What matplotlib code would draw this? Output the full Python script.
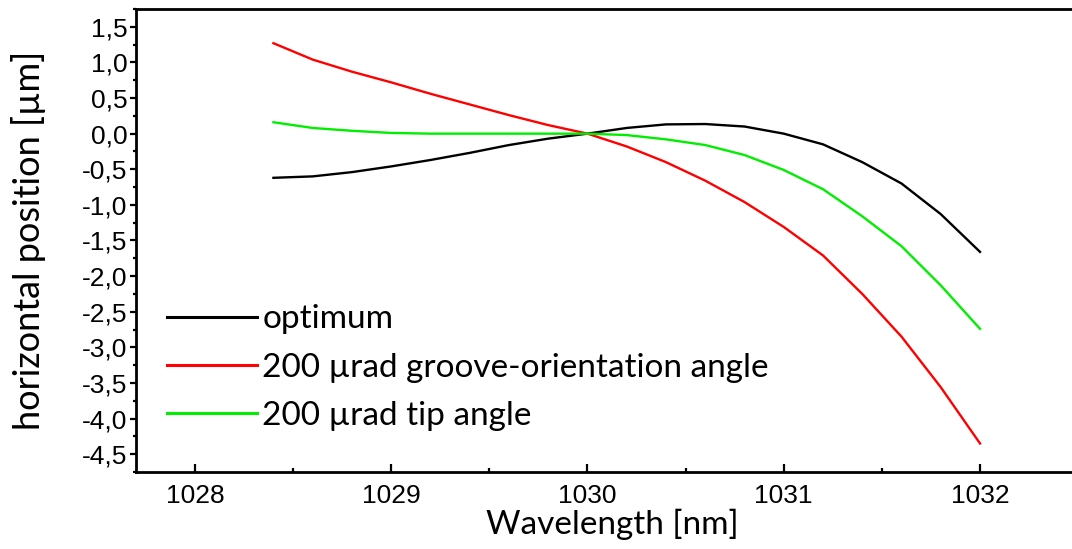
import matplotlib
matplotlib.use('Agg')
import matplotlib.pyplot as plt
import numpy as np
from matplotlib.ticker import FuncFormatter, MultipleLocator

# wavelength grid [nm]
wavelength = [1028.4, 1028.6, 1028.8, 1029.0, 1029.2, 1029.4, 1029.6, 1029.8, 1030.0,
              1030.2, 1030.4, 1030.6, 1030.8, 1031.0, 1031.2, 1031.4, 1031.6, 1031.8, 1032.0]

# horizontal position [um]
optimum = [-0.62, -0.60, -0.54, -0.46, -0.37, -0.27, -0.16, -0.07, 0.0,
           0.08, 0.13, 0.135, 0.10, 0.0, -0.15, -0.40, -0.70, -1.13, -1.66]
groove = [1.27, 1.04, 0.87, 0.72, 0.56, 0.41, 0.26, 0.12, 0.0,
          -0.18, -0.40, -0.66, -0.96, -1.31, -1.71, -2.25, -2.85, -3.56, -4.35]
tip = [0.16, 0.08, 0.04, 0.01, 0.0, 0.0, 0.0, 0.0, 0.0,
       -0.02, -0.08, -0.16, -0.30, -0.51, -0.78, -1.16, -1.58, -2.13, -2.74]

labels = ['optimum', '200 µrad groove-orientation angle', '200 µrad tip angle']
colors = ['#000000', '#ff0000', '#00ee00']

fig = plt.figure(figsize=(10.72, 5.49), dpi=100)
ax = fig.add_axes([0.1269, 0.1403, 0.888, 0.8433])

for ys, lab, c in zip([optimum, groove, tip], labels, colors):
    ax.plot(wavelength, ys, color=c, lw=1.7, label=lab)

ax.set_xlim(1027.70, 1032.55)
ax.set_ylim(-4.75, 1.75)

ax.xaxis.set_major_locator(MultipleLocator(1))
ax.xaxis.set_minor_locator(MultipleLocator(0.5))
ax.yaxis.set_major_locator(MultipleLocator(0.5))
ax.yaxis.set_minor_locator(MultipleLocator(0.25))
ax.yaxis.set_major_formatter(FuncFormatter(lambda v, p: f'{v:.1f}'.replace('.', ',').replace('-0,0', '0,0')))

ax.tick_params(axis='x', which='major', direction='in', length=5.5, width=1.6, labelsize=19, pad=9)
ax.tick_params(axis='x', which='minor', direction='in', length=3, width=1.6)
ax.tick_params(axis='y', which='major', direction='out', length=4, width=1.6, labelsize=19, pad=2)
ax.tick_params(axis='y', which='minor', direction='out', length=2.5, width=1.6)
for lab in ax.get_xticklabels() + ax.get_yticklabels():
    lab.set_family('Liberation Sans')

for s in ['left', 'bottom', 'top']:
    ax.spines[s].set_linewidth(2)
ax.spines['right'].set_visible(False)

ax.set_xlabel('Wavelength [nm]', fontsize=24, family='Lato', labelpad=0)
ax.set_ylabel('horizontal position [µm]', fontsize=26, family='Lato', labelpad=26)

leg = ax.legend(loc='lower left', bbox_to_anchor=(0.0084, 0.038), frameon=False,
                prop={'family': 'Lato', 'size': 24}, handlelength=2.7,
                handletextpad=0.15, labelspacing=0.55, borderaxespad=0.3)
for h in leg.get_lines():
    h.set_linewidth(2.2)

fig.savefig('out.png', dpi=100)
